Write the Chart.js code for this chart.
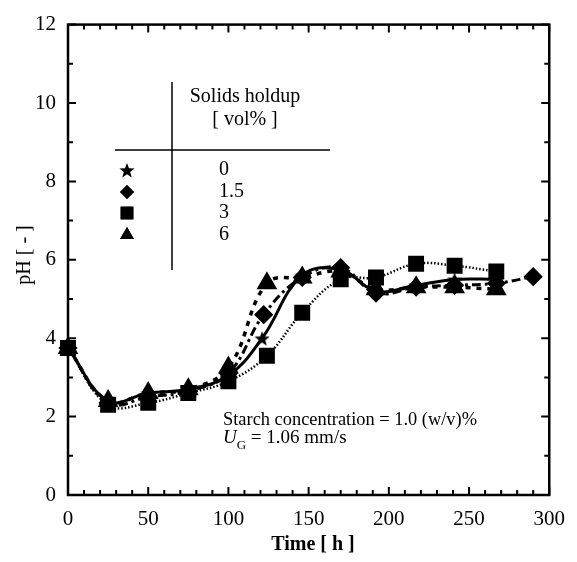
<!DOCTYPE html>
<html>
<head>
<meta charset="utf-8">
<script src="https://cdn.jsdelivr.net/npm/chart.js@4.4.0/dist/chart.umd.min.js"></script>
<style>
  html, body { margin: 0; padding: 0; background: #fff; }
  #box { width: 577px; height: 562px; }
</style>
</head>
<body>
<div id="box"><canvas id="grafico"></canvas></div>
<script>
// dados (tempo em h, pH)
const tempos0 = [0, 25, 50, 75, 100, 121, 146, 170, 192, 217, 241, 267];
const tempos15 = [0, 25, 50, 75, 100, 122, 146, 170, 192, 217, 241, 267, 290];
const tempos3 = [0, 25, 50, 75, 100, 124, 146, 170, 192, 217, 241, 267];
const tempos6 = [0, 25, 50, 75, 100, 124, 146, 170, 192, 217, 241, 267];
const ph0 = [3.75, 2.4, 2.6, 2.7, 3.05, 4.0, 5.6, 5.75, 5.2, 5.35, 5.5, 5.5];
const ph15 = [3.75, 2.35, 2.5, 2.65, 3.1, 4.6, 5.55, 5.8, 5.15, 5.3, 5.35, 5.4, 5.57];
const ph3 = [3.75, 2.3, 2.35, 2.6, 2.9, 3.55, 4.65, 5.5, 5.55, 5.9, 5.85, 5.7];
const ph6 = [3.75, 2.4, 2.6, 2.7, 3.25, 5.4, 5.55, 5.7, 5.25, 5.3, 5.3, 5.25];
const rotulosLegenda = ["0", "1.5", "3", "6"];
const ticksX = [0, 50, 100, 150, 200, 250, 300];
const ticksY = [0, 2, 4, 6, 8, 10, 12];

const fonte = "'Liberation Serif', 'Times New Roman', serif";

function pontos(xs, ys) {
  return xs.map((x, i) => ({ x: x, y: ys[i] }));
}

function criarEstrela(tam) {
  const c = document.createElement("canvas");
  c.width = tam; c.height = tam;
  const g = c.getContext("2d");
  const r = tam / 2, ri = r * 0.42;
  g.beginPath();
  for (let i = 0; i < 10; i++) {
    const rr = i % 2 === 0 ? r : ri;
    const a = -Math.PI / 2 + i * Math.PI / 5;
    const px = r + rr * Math.cos(a), py = r + 1 + rr * Math.sin(a);
    if (i === 0) g.moveTo(px, py); else g.lineTo(px, py);
  }
  g.closePath();
  g.fillStyle = "#000";
  g.fill();
  return c;
}
const estrela = criarEstrela(16);

function textoAjustado(ctx, txt, x, y, largura) {
  const w = ctx.measureText(txt).width;
  ctx.save();
  ctx.translate(x, y);
  ctx.scale(largura / w, 1);
  ctx.fillText(txt, 0, 0);
  ctx.restore();
}

const quadroPlugin = {
  id: "quadro",
  afterDraw(chart) {
    const ctx = chart.ctx;
    const a = chart.chartArea;
    const sx = chart.scales.x, sy = chart.scales.y;
    ctx.save();
    ctx.strokeStyle = "#000";
    ctx.lineWidth = 2.5;
    ctx.strokeRect(a.left, a.top, a.right - a.left, a.bottom - a.top);
    ctx.lineWidth = 2;
    ctx.beginPath();
    for (let v = 0; v <= 300; v += 10) {
      const px = sx.getPixelForValue(v);
      const L = v % 50 === 0 ? 8 : 5;
      ctx.moveTo(px, a.bottom); ctx.lineTo(px, a.bottom - L);
      ctx.moveTo(px, a.top); ctx.lineTo(px, a.top + L);
    }
    for (let v = 0; v <= 12; v += 1) {
      const py = sy.getPixelForValue(v);
      const L = v % 2 === 0 ? 8 : 5;
      ctx.moveTo(a.left, py); ctx.lineTo(a.left + L, py);
      ctx.moveTo(a.right, py); ctx.lineTo(a.right - L, py);
    }
    ctx.stroke();

    // titulos dos eixos
    ctx.fillStyle = "#000";
    ctx.font = "bold 20px " + fonte;
    ctx.textAlign = "center";
    ctx.textBaseline = "middle";
    ctx.fillText("Time [ h ]", 313, 545);
    ctx.save();
    ctx.translate(25, 255);
    ctx.rotate(-Math.PI / 2);
    ctx.font = "20px " + fonte;
    ctx.fillText("pH [ - ]", 0, 0);
    ctx.restore();

    // tabela da legenda
    ctx.lineWidth = 1.5;
    ctx.beginPath();
    ctx.moveTo(172, 82); ctx.lineTo(172, 270);
    ctx.moveTo(115, 150); ctx.lineTo(330, 150);
    ctx.stroke();
    ctx.font = "20px " + fonte;
    ctx.textAlign = "center";
    ctx.fillText("Solids holdup", 245, 97);
    ctx.fillText("[ vol% ]", 245, 120);
    const ys = [170, 192, 213, 235];
    const ds = chart.data.datasets;
    ctx.textAlign = "left";
    rotulosLegenda.forEach((txt, i) => {
      ctx.fillText(txt, 219, ys[i]);
      Chart.helpers.drawPoint(ctx, { pointStyle: ds[i].pointStyle, radius: ds[i].legendRadius, rotation: 0, borderWidth: 0 }, 127, ys[i]);
      ctx.fill();
    });

    // anotacao
    ctx.textBaseline = "alphabetic";
    ctx.font = "19px " + fonte;
    textoAjustado(ctx, "Starch concentration = 1.0 (w/v)%", 223, 425, 254);
    ctx.font = "italic 19px " + fonte;
    ctx.fillText("U", 223, 443);
    const wU = ctx.measureText("U").width;
    ctx.font = "13px " + fonte;
    ctx.fillText("G", 223 + wU, 449);
    const wG = ctx.measureText("G").width;
    ctx.font = "19px " + fonte;
    ctx.fillText(" = 1.06 mm/s", 223 + wU + wG, 443);
    ctx.restore();
  }
};

const ctx = document.getElementById("grafico").getContext("2d");
new Chart(ctx, {
  type: "scatter",
  data: {
    datasets: [
      {
        label: "0",
        data: pontos(tempos0, ph0),
        showLine: true,
        tension: 0.4,
        clip: false,
        borderColor: "#000",
        backgroundColor: "#000",
        borderWidth: 3,
        pointStyle: estrela,
        legendRadius: 8,
        pointRadius: 8
      },
      {
        label: "1.5",
        data: pontos(tempos15, ph15),
        showLine: true,
        tension: 0.4,
        clip: false,
        borderColor: "#000",
        backgroundColor: "#000",
        borderWidth: 3,
        borderDash: [9, 4, 3, 4],
        pointStyle: "rectRot",
        legendRadius: 7,
        pointRadius: 7.5
      },
      {
        label: "3",
        data: pontos(tempos3, ph3),
        showLine: true,
        tension: 0.4,
        clip: false,
        borderColor: "#000",
        backgroundColor: "#000",
        borderWidth: 2.5,
        borderDash: [1.5, 2],
        pointStyle: "rect",
        legendRadius: 9,
        pointRadius: 9.5
      },
      {
        label: "6",
        data: pontos(tempos6, ph6),
        showLine: true,
        tension: 0.4,
        clip: false,
        borderColor: "#000",
        backgroundColor: "#000",
        borderWidth: 3.5,
        borderDash: [5, 6],
        pointStyle: "triangle",
        legendRadius: 8,
        pointRadius: 8.5
      }
    ]
  },
  options: {
    responsive: true,
    maintainAspectRatio: false,
    animation: false,
    layout: { padding: { top: 17, right: 26, left: 0, bottom: 0 } },
    plugins: {
      legend: { display: false },
      tooltip: { enabled: false }
    },
    scales: {
      x: {
        type: "linear",
        min: 0,
        max: 300,
        grid: { display: false, drawTicks: false },
        border: { display: false },
        afterFit(scale) { scale.height = 67; },
        afterBuildTicks(scale) { scale.ticks = ticksX.map(v => ({ value: v })); },
        ticks: { color: "#000", padding: 12, font: { family: fonte, size: 21 } }
      },
      y: {
        min: 0,
        max: 12,
        grid: { display: false, drawTicks: false },
        border: { display: false },
        afterFit(scale) { scale.width = 68; },
        afterBuildTicks(scale) { scale.ticks = ticksY.map(v => ({ value: v })); },
        ticks: { color: "#000", padding: 12, font: { family: fonte, size: 21 } }
      }
    }
  },
  plugins: [quadroPlugin]
});
</script>
</body>
</html>
